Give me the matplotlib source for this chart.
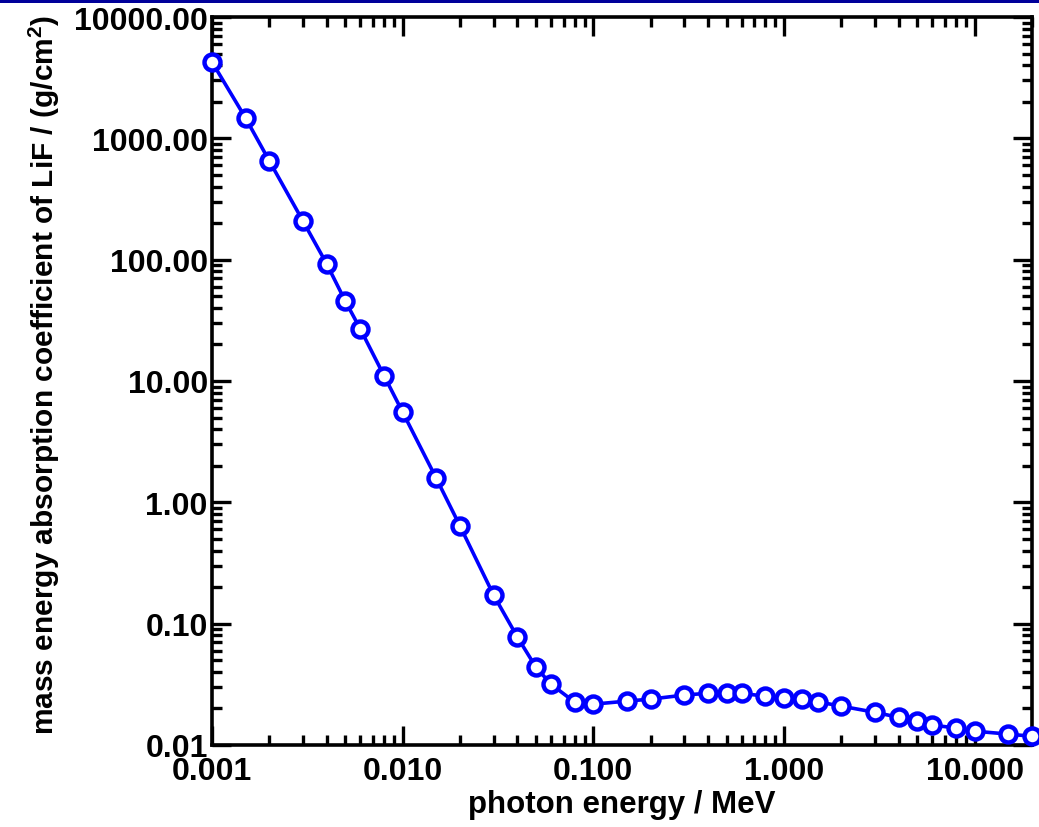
import matplotlib
matplotlib.use("Agg")
import matplotlib.pyplot as plt
from matplotlib.ticker import FuncFormatter, LogLocator
from matplotlib.patches import Rectangle

plt.rcParams['font.family'] = ['Liberation Sans', 'DejaVu Sans']
plt.rcParams['font.weight'] = 'bold'
plt.rcParams['mathtext.fontset'] = 'custom'
plt.rcParams['mathtext.rm'] = 'Liberation Sans:bold'
plt.rcParams['mathtext.bf'] = 'Liberation Sans:bold'

# photon energy (MeV) and mass energy absorption coefficient of LiF (cm^2/g)
energy = [0.001, 0.0015, 0.002, 0.003, 0.004, 0.005, 0.006, 0.008, 0.01,
          0.015, 0.02, 0.03, 0.04, 0.05, 0.06, 0.08, 0.1, 0.15, 0.2, 0.3,
          0.4, 0.5, 0.6, 0.8, 1.0, 1.25, 1.5, 2.0, 3.0, 4.0, 5.0, 6.0,
          8.0, 10.0, 15.0, 20.0]
mu_en = [4260, 1470, 650, 208, 92, 45.6, 26.8, 11.0, 5.54,
         1.58, 0.637, 0.172, 0.0774, 0.0438, 0.0317, 0.0225, 0.0217, 0.0230, 0.0239, 0.0258,
         0.0267, 0.0268, 0.0267, 0.0252, 0.0245, 0.0239, 0.0227, 0.0209, 0.0186, 0.0169, 0.0157, 0.0146,
         0.0138, 0.0130, 0.0123, 0.0118]

fig = plt.figure(figsize=(10.39, 8.28), dpi=100)
fig.patch.set_facecolor('white')
# barra azul superior
fig.patches.append(Rectangle((0, 1 - 4 / 828), 1, 4 / 828, transform=fig.transFigure,
                             facecolor='#00009a', edgecolor='none'))

ax = fig.add_axes([212 / 1039, 1 - 746 / 828, (1032 - 212) / 1039, (746 - 18) / 828])
ax.plot(energy, mu_en, color='#0000ff', linewidth=2.6, marker='o', markersize=11.5,
        markerfacecolor='white', markeredgecolor='#0000ff', markeredgewidth=3.2,
        clip_on=False, zorder=3)

ax.set_xscale('log')
ax.set_yscale('log')
ax.set_xlim(0.001, 20)
ax.set_ylim(0.01, 10000)

ax.xaxis.set_major_locator(LogLocator(base=10, numticks=20))
ax.yaxis.set_major_locator(LogLocator(base=10, numticks=20))
ax.xaxis.set_minor_locator(LogLocator(base=10, subs=range(2, 10), numticks=20))
ax.yaxis.set_minor_locator(LogLocator(base=10, subs=range(2, 10), numticks=20))
ax.xaxis.set_major_formatter(FuncFormatter(lambda v, p: f'{v:.3f}'))
ax.yaxis.set_major_formatter(FuncFormatter(lambda v, p: f'{v:.2f}'))

for s in ax.spines.values():
    s.set_linewidth(2.6)
ax.tick_params(which='both', direction='in', top=True, right=True, width=2.4,
               labelsize=23, colors='black')
ax.tick_params(which='major', length=14, pad=3)
ax.tick_params(axis='x', which='major', pad=8)
ax.tick_params(which='minor', length=7)
for lab in ax.get_xticklabels() + ax.get_yticklabels():
    lab.set_fontweight('bold')

ax.set_xlabel('photon energy / MeV', fontsize=22.5, fontweight='bold', labelpad=2)
ax.set_ylabel(r'mass energy absorption coefficient of LiF / (g/cm$^{2}$)',
              fontsize=21.5, fontweight='bold')
ax.yaxis.set_label_coords(-150 / 820, 0.51)

fig.savefig('out.png', dpi=100)
